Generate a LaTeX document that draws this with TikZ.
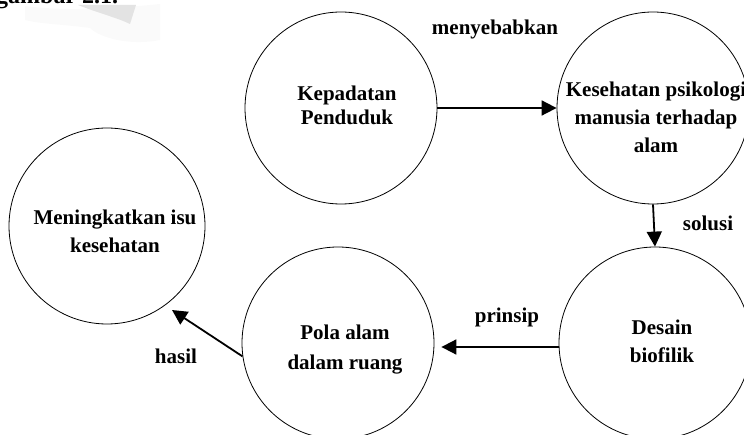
\documentclass[tikz,border=0pt]{standalone}
\usepackage{fontspec}
\setmainfont{Liberation Serif}
\usetikzlibrary{arrows.meta}
\begin{document}
\begin{tikzpicture}[x=1pt,y=1pt,
  bubble/.style={circle, draw, line width=0.8pt, minimum size=192pt, inner sep=0pt},
  txt/.style={font=\bfseries\fontsize{21}{28}\selectfont, align=center, inner sep=0pt},
  lbl/.style={font=\bfseries\fontsize{21}{25}\selectfont, inner sep=0pt, anchor=base},
  conn/.style={line width=1.8pt, -{Triangle[length=15pt,width=15pt]}}]
\useasboundingbox (0,0) rectangle (744,-435);
\clip (0,0) rectangle (744,-435);
% faint watermark
\fill[gray!4] (25,-6) .. controls (70,-12) and (120,-8) .. (160,-4) -- (160,-40) .. controls (130,-46) and (100,-38) .. (90,-28) .. controls (60,-24) and (40,-24) .. (25,-20) -- cycle;
\fill[gray!22] (78,-5) .. controls (98,-13) and (118,-18) .. (130,-24) -- (136,-5) -- cycle;
% header fragment
\node[anchor=base west, font=\bfseries\fontsize{24}{24}\selectfont, inner sep=0pt] (hdr) at (-4,-4) {gambar 2.1.};
% circles
\node[bubble] (kep) at (341,-108) {};
\node[bubble] (kes) at (653,-108) {};
\node[bubble, minimum size=196pt] (men) at (107,-226) {};
\node[bubble] (pol) at (338,-343) {};
\node[bubble] (des) at (655,-343) {};
% texts
\node[txt, font=\bfseries\fontsize{21}{24}\selectfont] (tkep) at (347,-105) {Kepadatan\\Penduduk};
\node[txt] (tkes) at (656,-117) {Kesehatan psikologi\\manusia terhadap\\alam};
\node[txt] (tmen) at (115,-231) {Meningkatkan isu\\kesehatan};
\node[txt, font=\bfseries\fontsize{21}{30}\selectfont] (tpol) at (345,-350) {Pola alam\\dalam ruang};
\node[txt] (tdes) at (662,-341) {Desain\\biofilik};
% connectors
\coordinate (htip) at (172,-310);
\draw[conn] (kep.east) -- (kes.west);
\draw[conn] (kes.south) -- (des.north);
\draw[conn, shorten >=7pt] ([yshift=-4pt]des.west) -- ([yshift=-4pt]pol.east);
\draw[conn] (pol.188) -- (htip);
% labels
\node[lbl] (lmen) at (495,-35) {menyebabkan};
\node[lbl] (lsol) at (708,-231) {solusi};
\node[lbl] (lpri) at (507,-323) {prinsip};
\node[lbl] (lhas) at (176,-363) {hasil};
\end{tikzpicture}
\end{document}
